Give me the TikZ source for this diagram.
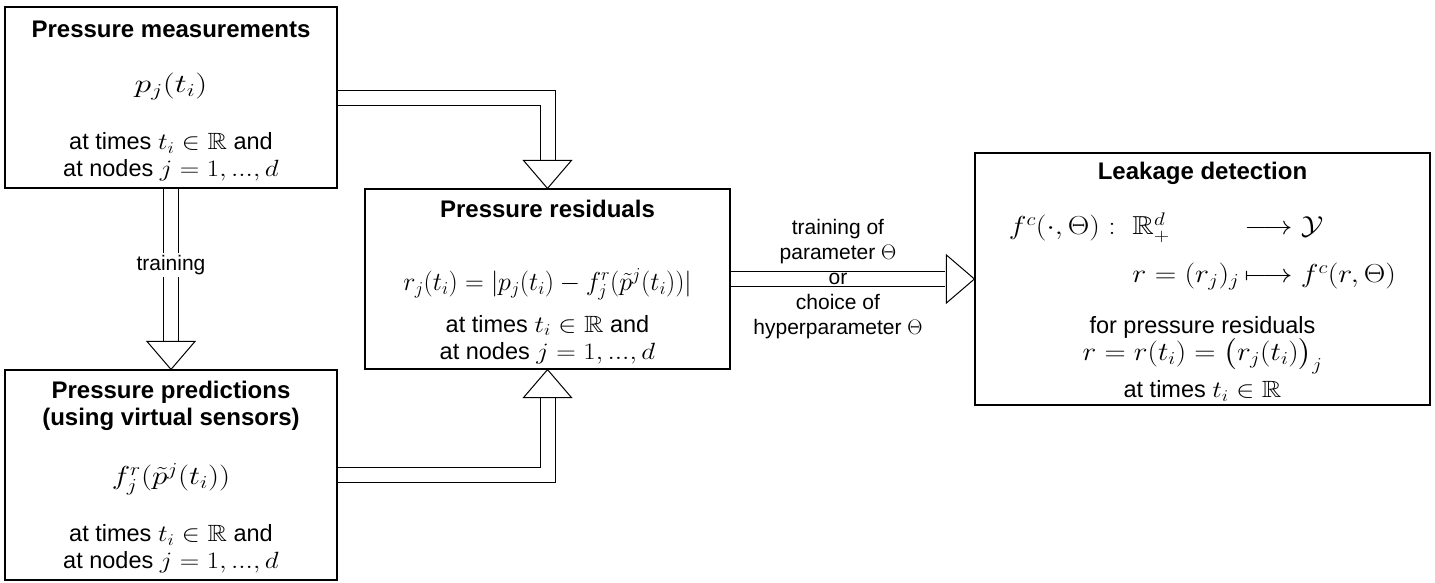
\RequirePackage{fix-cm}
\documentclass[tikz,border=0pt]{standalone}
\usepackage{amsmath}
\usepackage{amssymb}
\usepackage{fontspec}
\setmainfont{Liberation Sans}
\usetikzlibrary{positioning,backgrounds}

\newcommand{\boxtitle}[1]{{\fontsize{24}{27}\selectfont\bfseries #1}}
\newcommand{\bigmath}[2][1]{{\fontsize{26}{31}\selectfont\scalebox{#1}[1]{$#2$}}}
\newcommand{\wm}[1]{\scalebox{1.15}[1]{$#1$}}

\begin{document}
\begin{tikzpicture}[x=1pt,y=1pt,on grid,
    stage/.style={draw, line width=1.2pt, align=center, inner sep=3pt, font=\fontsize{23.5}{27}\selectfont},
    shaft/.style={draw, line width=1pt, double=white, double distance=14pt},
    flowlabel/.style={font=\fontsize{21}{25}\selectfont, align=center},
    bhead/.pic={\draw[line width=1pt, fill=white] (0,0) -- (-28,24) -- (-28,-24) -- cycle;}]
\useasboundingbox (0,0) rectangle (1435,-582);

\node[stage, minimum width=332pt, minimum height=181pt] (meas) at (171,-97.5)
  {\boxtitle{\rule{0pt}{24pt}Pressure measurements}\\[28pt]
   \bigmath[1.3]{p_j(t_i)}\\[30pt]
   at times \wm{t_i\in\mathbb{R}} and\\
   at nodes \wm{j=1,...,d}};
\node[stage, minimum width=332pt, minimum height=210pt] (pred) [below=377.5pt of meas]
  {\boxtitle{\rule{0pt}{22pt}Pressure predictions}\\
   \boxtitle{(using virtual sensors)}\\[32pt]
   \bigmath[1.2]{f^r_j(\tilde{p}^j(t_i))}\\[29pt]
   at times \wm{t_i\in\mathbb{R}} and\\
   at nodes \wm{j=1,...,d}};
\node[stage, minimum width=365pt, minimum height=180pt] (res) [below right=181.5pt and 376.5pt of meas]
  {\boxtitle{\rule{0pt}{23pt}Pressure residuals}\\[46pt]
   \bigmath{r_j(t_i)=|p_j(t_i)-f^r_j(\tilde{p}^j(t_i))|}\\[14pt]
   at times \wm{t_i\in\mathbb{R}} and\\
   at nodes \wm{j=1,...,d}};
\node[stage, minimum width=455pt, minimum height=252pt] (leak) [right=655pt of res]
  {\boxtitle{\rule{0pt}{23pt}Leakage detection}\\[27pt]
   \bigmath[1.15]{\begin{array}[t]{@{}r@{\;\;}l@{\,}r@{\;}l@{}}
     f^c(\cdot,\Theta): & \mathbb{R}^d_+ & \longrightarrow & \mathcal{Y}\\[17pt]
      & r=(r_j)_j & \longmapsto & f^c(r,\Theta)
   \end{array}}\\[23pt]
   for pressure residuals\\
   \bigmath[1.13]{r=r(t_i)=\big(r_j(t_i)\big)_j}\\[6pt]
   at times \wm{t_i\in\mathbb{R}}};

\coordinate[above=28pt of res.north] (resin);
\coordinate[below=28pt of res.south] (resout);
\coordinate[above=28pt of pred.north] (predin);
\coordinate[left=29pt of leak.west] (leakin);

\begin{scope}[on background layer]
\fill[white] (0,0) rectangle (1435,-582);
% block arrows
\draw[shaft] (meas.east) -| (resin);
\draw[shaft] (meas.south) -- node[fill=white, inner sep=2pt, font=\fontsize{21}{25}\selectfont] {training} (predin);
\draw[shaft] (pred.east) -| (resout);
\draw[shaft] (res.east) -- node[flowlabel] {training of\\ parameter $\Theta$\\ or\\ choice of\\ hyperparameter $\Theta$} (leakin);
\pic[rotate=-90] at (res.north) {bhead};
\pic[rotate=-90] at (pred.north) {bhead};
\pic[rotate=90] at (res.south) {bhead};
\pic at (leak.west) {bhead};
\end{scope}
\end{tikzpicture}
\end{document}
